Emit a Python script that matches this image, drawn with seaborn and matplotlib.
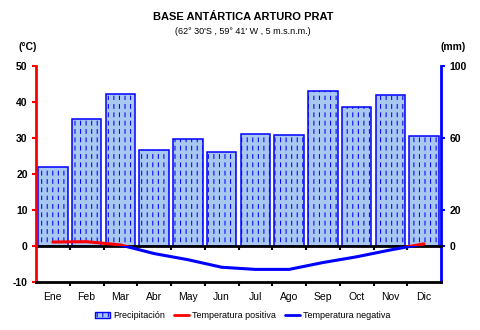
import numpy as np
import pandas as pd
import matplotlib
matplotlib.use("Agg")
import matplotlib.pyplot as plt
from matplotlib import hatch as mhatch
from matplotlib.path import Path
from matplotlib.patches import Rectangle, Patch
from matplotlib.lines import Line2D
import seaborn as sns

# Monthly climate normals, Base Antártica Arturo Prat
months = ["Ene", "Feb", "Mar", "Abr", "May", "Jun",
          "Jul", "Ago", "Sep", "Oct", "Nov", "Dic"]
precip_mm = [44.0, 70.4, 84.3, 53.2, 59.3, 52.2, 62.2, 61.5, 86.0, 77.0, 83.7, 61.0]
temp_c = [1.1, 1.2, 0.3, -2.1, -3.8, -5.9, -6.5, -6.5, -4.6, -3.0, -1.1, 0.6]

temp_ticks = [-10, 0, 10, 20, 30, 40, 50]
precip_ticks = [0, 20, 60, 100]

title = "BASE ANTÁRTICA ARTURO PRAT"
subtitle = "(62° 30'S , 59° 41' W , 5 m.s.n.m.)"

BAR_FILL = "#a8c8f0"
BLUE = "#0000ff"
RED = "#ff0000"


class DashedVerticalHatch(mhatch.HatchPatternBase):
    """Vertical hatch drawn as short dashes instead of continuous lines."""

    cols = 18
    rows = 12
    dash = 0.45

    def __init__(self, hatch, density):
        n = hatch.count("|")
        self.n_cols = self.cols if n else 0
        self.num_vertices = self.n_cols * self.rows * 2

    def set_vertices_and_codes(self, vertices, codes):
        xs = (np.arange(self.n_cols) + 0.5) / self.n_cols
        step = 1.0 / self.rows
        k = 0
        for x in xs:
            for r in range(self.rows):
                y0 = r * step
                vertices[k] = (x, y0)
                vertices[k + 1] = (x, y0 + step * self.dash)
                codes[k] = Path.MOVETO
                codes[k + 1] = Path.LINETO
                k += 2


mhatch._hatch_types = [DashedVerticalHatch if t is mhatch.VerticalHatch else t
                       for t in mhatch._hatch_types]

sns.set_theme(style="white")
plt.rcParams["font.family"] = ["Liberation Sans", "DejaVu Sans"]
plt.rcParams["text.color"] = "black"
plt.rcParams["xtick.labelcolor"] = "black"
plt.rcParams["ytick.labelcolor"] = "black"
plt.rcParams["hatch.linewidth"] = 0.75
plt.rcParams["hatch.color"] = BLUE

df = pd.DataFrame({"mes": months, "precip": precip_mm, "temp": temp_c,
                   "pos": np.arange(len(months))})

fig = plt.figure(figsize=(4.8, 3.3), dpi=100)
ax = fig.add_axes([36 / 480, 1 - 282 / 330, 405 / 480, 216 / 330])
ax2 = ax.twinx()

# Precipitation bars on the right (mm) axis
sns.barplot(data=df, x="pos", y="precip", ax=ax2, color=BAR_FILL,
            width=0.88, saturation=1, edgecolor=BLUE, linewidth=1.1,
            native_scale=True)
for bar in ax2.patches:
    bar.set_hatch("|")
    bar.set_edgecolor(BLUE)
    bar.set_facecolor(BAR_FILL)

# Temperature line: red above 0 °C, blue below
sns.lineplot(data=df, x="pos", y="temp", ax=ax, color=RED, linewidth=2.2)
sns.lineplot(data=df, x="pos", y="temp", ax=ax, color=BLUE, linewidth=2.2)
pos_clip = Rectangle((-1, 0), 14, 100, transform=ax.transData)
neg_clip = Rectangle((-1, -100), 14, 100, transform=ax.transData)
ax.lines[0].set_clip_path(pos_clip)
ax.lines[1].set_clip_path(neg_clip)
ax.lines[0].set_zorder(4)

ax.set_zorder(ax2.get_zorder() + 1)
ax.patch.set_visible(False)

# Limits and scales: 1 °C on the left equals 2 mm on the right
ax.set_xlim(-0.5, len(months) - 0.5)
ax2.set_xlim(-0.5, len(months) - 0.5)
ax.set_ylim(-10, 50)
ax2.set_ylim(-20, 100)

ax.set_xlabel("")
ax.set_ylabel("")
ax2.set_xlabel("")
ax2.set_ylabel("")

# Spines
ax.spines["top"].set_visible(False)
ax2.spines["top"].set_visible(False)
ax2.spines["left"].set_visible(False)
ax2.spines["bottom"].set_visible(False)
ax.spines["right"].set_visible(False)
ax.spines["left"].set_color(RED)
ax.spines["left"].set_linewidth(2)
ax.spines["bottom"].set_color("black")
ax.spines["bottom"].set_linewidth(2)
ax2.spines["right"].set_color(BLUE)
ax2.spines["right"].set_linewidth(2)

# X axis: tick marks between months, labels at month centers
bounds = np.arange(len(months) - 1) + 0.5
ax.set_xticks(bounds)
ax.set_xticklabels([])
ax.set_xticks(np.arange(len(months)), minor=True)
ax.set_xticklabels(months, minor=True, fontsize=7.5)
ax.tick_params(axis="x", which="major", direction="out", length=3, width=1.5,
               color="black", bottom=True)
ax.tick_params(axis="x", which="minor", length=0, pad=7, bottom=True)
ax2.tick_params(axis="x", which="both", bottom=False, labelbottom=False)

# Zero line with its own tick marks
zero = ax.secondary_xaxis(10 / 60)
zero.set_xticks(bounds)
zero.set_xticklabels([])
zero.spines["bottom"].set_linewidth(2)
zero.spines["bottom"].set_color("black")
zero.tick_params(direction="out", length=3, width=1.5, color="black")

# Y axes
ax.set_yticks(temp_ticks)
ax.set_yticklabels([str(v) for v in temp_ticks], fontsize=7.5, fontweight="bold")
ax.tick_params(axis="y", direction="out", length=3, width=1.5, color=RED,
               left=True, pad=3)
ax2.set_yticks(precip_ticks)
ax2.set_yticklabels([str(v) for v in precip_ticks], fontsize=7.5, fontweight="bold")
ax2.tick_params(axis="y", direction="out", length=3, width=1.5, color=BLUE,
                right=True, pad=3)
ax.grid(False)
ax2.grid(False)

# Titles and unit labels
fig.text(243 / 480, 1 - 17 / 330, title, ha="center", va="center",
         fontsize=8, fontweight="bold")
fig.text(243 / 480, 1 - 31 / 330, subtitle, ha="center", va="center",
         fontsize=6.5)
fig.text(28 / 480, 1 - 47 / 330, "(°C)", ha="center", va="center",
         fontsize=7.5, fontweight="bold")
fig.text(453 / 480, 1 - 47 / 330, "(mm)", ha="center", va="center",
         fontsize=7.5, fontweight="bold")

# Legend
handles = [
    Patch(facecolor=BAR_FILL, edgecolor=BLUE, hatch="|", linewidth=1),
    Line2D([], [], color=RED, linewidth=2),
    Line2D([], [], color=BLUE, linewidth=2),
]
labels = ["Precipitación", "Temperatura positiva", "Temperatura negativa"]
fig.legend(handles, labels, loc="center", bbox_to_anchor=(243 / 480, 1 - 316 / 330),
           ncol=3, frameon=False, fontsize=6.5, handlelength=1.6,
           handleheight=0.6, handletextpad=0.4, columnspacing=1.0)

fig.savefig("out.png", dpi=100)
